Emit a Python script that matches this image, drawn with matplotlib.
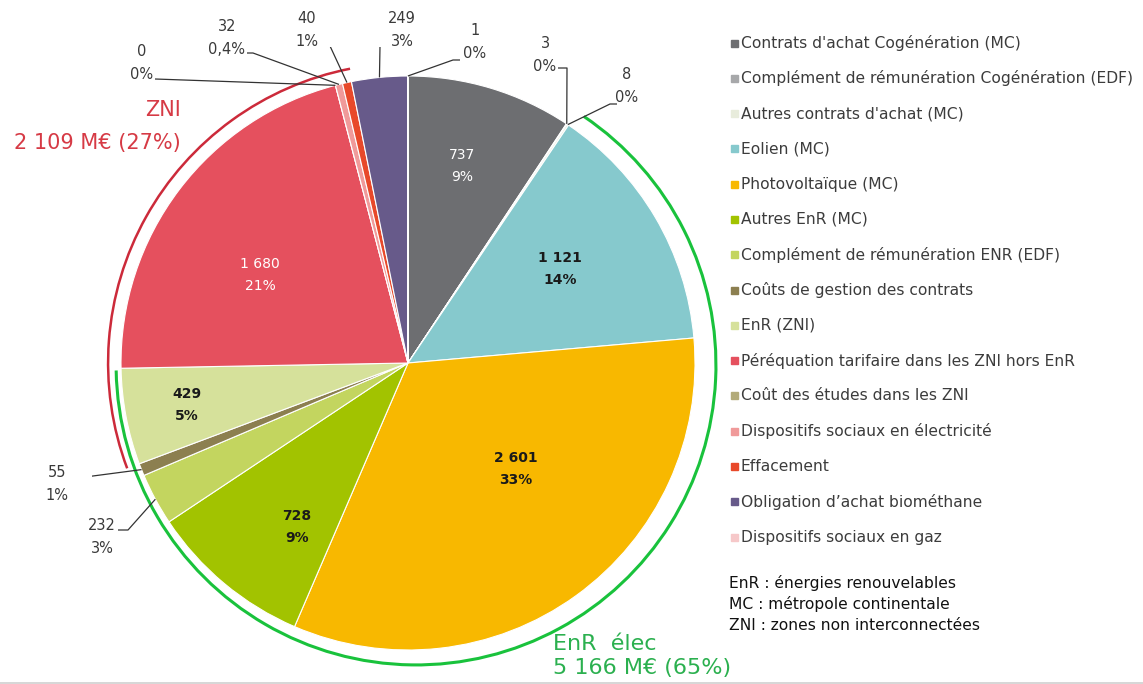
import matplotlib
matplotlib.use("Agg")
import matplotlib.pyplot as plt
from matplotlib.patches import Arc
import numpy as np

# ---------------- data ----------------
categories = [
    "Contrats d'achat Cogénération (MC)",
    "Complément de rémunération Cogénération (EDF)",
    "Autres contrats d'achat (MC)",
    "Eolien (MC)",
    "Photovoltaïque (MC)",
    "Autres EnR (MC)",
    "Complément de rémunération ENR (EDF)",
    "Coûts de gestion des contrats",
    "EnR (ZNI)",
    "Péréquation tarifaire dans les ZNI hors EnR",
    "Coût des études dans les ZNI",
    "Dispositifs sociaux en électricité",
    "Effacement",
    "Obligation d\u2019achat biométhane",
    "Dispositifs sociaux en gaz",
]
values = [737, 3, 8, 1121, 2601, 728, 232, 55, 429, 1680, 0, 32, 40, 249, 1]
value_labels = ["737", "3", "8", "1 121", "2 601", "728", "232", "55", "429",
                "1 680", "0", "32", "40", "249", "1"]
pct_labels = ["9%", "0%", "0%", "14%", "33%", "9%", "3%", "1%", "5%",
              "21%", "0%", "0,4%", "1%", "3%", "0%"]
colors = ["#6d6e71", "#a7a8aa", "#e8ecdc", "#86c9cd", "#f8b800", "#a2c300",
          "#c3d55f", "#8c7f50", "#d6e19b", "#e5505e", "#b3ab7a", "#f09a9a",
          "#e8492a", "#675a8a", "#f6c8c9"]

group_enr_name = "EnR  élec"
group_enr_idx = [3, 4, 5, 6, 7, 8]
group_zni_name = "ZNI"
group_zni_idx = [8, 9, 10]
notes = ["EnR : énergies renouvelables",
         "MC : métropole continentale",
         "ZNI : zones non interconnectées"]

# ---------------- layout helpers ----------------
W, H = 1143, 684
CX, CY, R = 408, 363, 287   # pie centre / radius in pixels


def P(x, y):
    """pixel (from top-left) -> data coords of pie axes"""
    return ((x - CX) / R, (CY - y) / R)


def fmt_thousands(v):
    return f"{v:,}".replace(",", " ")


fig = plt.figure(figsize=(W / 100, H / 100), dpi=100)
fig.patch.set_facecolor("white")
lim = 1.1
ax = fig.add_axes([(CX - lim * R) / W, (H - CY - lim * R) / H,
                   2 * lim * R / W, 2 * lim * R / H])
ax.axis("off")

wedges, _ = ax.pie(values, colors=colors, startangle=90, counterclock=False,
                   radius=1.0, center=(0, 0),
                   wedgeprops=dict(edgecolor="white", linewidth=0.8))
ax.set_xlim(-lim, lim)
ax.set_ylim(-lim, lim)
ax.set_aspect("auto")

# ---------------- inside labels ----------------
inside = {
    0: ((462, 166), "white", "normal"),
    3: ((560, 269), "#1a1a1a", "bold"),
    4: ((516, 469), "#1a1a1a", "bold"),
    5: ((297, 527), "#1a1a1a", "bold"),
    8: ((187, 405), "#1a1a1a", "bold"),
    9: ((260, 275), "white", "normal"),
}
for i, ((x, y), c, w) in inside.items():
    ax.text(*P(x, y), f"{value_labels[i]}\n{pct_labels[i]}", ha="center",
            va="center", color=c, fontsize=10, fontweight=w,
            linespacing=1.65)


# ---------------- outside labels with leaders ----------------
def anchor(i, r=1.0):
    w = wedges[i]
    a = np.deg2rad((w.theta1 + w.theta2) / 2)
    return (r * np.cos(a), r * np.sin(a))


outside = {
    14: ((475, 42), [(460, 60), (453, 60)]),
    13: ((402, 30), [(387, 46), (380, 46)]),
    12: ((307, 30), [(322, 46), (330, 46)]),
    11: ((227, 38), [(247, 53), (253, 53)]),
    10: ((142, 63), [(155, 79)]),
    1: ((545, 55), [(558, 68), (567, 68)]),
    2: ((627, 86), [(617, 104), (610, 104)]),
    7: ((57, 484), [(70, 479)]),
    6: ((102, 537), [(118, 530), (128, 530)]),
}
for i, ((x, y), path) in outside.items():
    ax.text(*P(x, y), f"{value_labels[i]}\n{pct_labels[i]}", ha="center",
            va="center", color="#3a3a3a", fontsize=10.5, linespacing=1.7)
    pts = [P(px, py) for px, py in path] + [anchor(i)]
    xs, ys = zip(*pts)
    ax.plot(xs, ys, color="#333333", lw=0.9, solid_capstyle="butt")

# ---------------- group arcs ----------------
total = sum(values)
enr_total = sum(values[i] for i in group_enr_idx)
zni_total = sum(values[i] for i in group_zni_idx)

g_start = wedges[group_enr_idx[-1]].theta1
g_end = wedges[group_enr_idx[0]].theta2
ax.add_patch(Arc((0.028, -0.007), 2 * 1.045, 2 * 1.045, theta1=g_start,
                 theta2=g_end, color="#19c23c", lw=2.2))
r_start = wedges[group_zni_idx[-1]].theta1 - 3.5
r_end = wedges[group_zni_idx[0]].theta2
ax.add_patch(Arc((0, 0), 2 * 1.045, 2 * 1.045, theta1=r_start,
                 theta2=r_end, color="#cc2a3a", lw=1.8))

ax.text(*P(181, 110), group_zni_name, ha="right", va="center",
        color="#d63a45", fontsize=15)
ax.text(*P(181, 143), f"{fmt_thousands(zni_total)} M€ ({zni_total / total:.0%})",
        ha="right", va="center", color="#d63a45", fontsize=15)
ax.text(*P(553, 644), group_enr_name, ha="left", va="center",
        color="#2bb04f", fontsize=16)
ax.text(*P(553, 668), f"{fmt_thousands(enr_total)} M€ ({enr_total / total:.0%})",
        ha="left", va="center", color="#2bb04f", fontsize=16)

# ---------------- legend ----------------
y0, dy = 43, 35.3
for k, (name, c) in enumerate(zip(categories, colors)):
    y = y0 + k * dy
    fig.patches.append(plt.Rectangle((731 / W, 1 - (y + 3.5) / H), 7 / W, 7 / H,
                                     transform=fig.transFigure, color=c,
                                     figure=fig))
    fig.text(741 / W, 1 - y / H, name, ha="left", va="center",
             color="#3c3c3c", fontsize=11.2)

for k, t in enumerate(notes):
    fig.text(729 / W, 1 - (583 + k * 21.5) / H, t, ha="left", va="center",
             color="#111111", fontsize=11.2)

# bottom rule
fig.add_artist(plt.Line2D([0, 1], [1 - 682.5 / H, 1 - 682.5 / H],
                          transform=fig.transFigure, color="#d0d0d0", lw=1.2))

fig.savefig("out.png", dpi=100, facecolor="white")
